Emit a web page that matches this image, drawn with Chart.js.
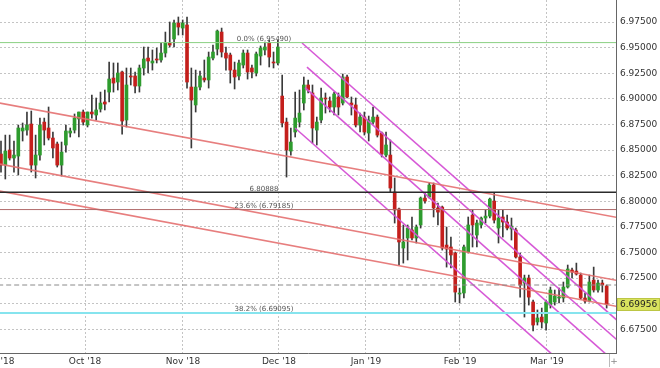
<!DOCTYPE html>
<html>
<head>
<meta charset="utf-8">
<script src="https://cdn.jsdelivr.net/npm/chart.js@4.4.1/dist/chart.umd.min.js"></script>
<style>
  html, body { margin: 0; padding: 0; background: #fff; }
  #wrap { width: 660px; height: 368px; }
</style>
</head>
<body>
<div id="wrap"><canvas id="chart" width="660" height="368"></canvas></div>
<script>
// daily candles, Sep '18 - Mar '19 (index = trading day)
const opens = [6.8461, 6.8353, 6.8500, 6.8422, 6.8441, 6.8686, 6.8695, 6.8754, 6.8353, 6.8451,
  6.8773, 6.8715, 6.8617, 6.8559, 6.8353, 6.8549, 6.8666, 6.8695, 6.8803, 6.8871,
  6.8744, 6.8871, 6.8842, 6.8900, 6.8969, 6.9066, 6.9203, 6.9164, 6.9262, 6.8793,
  6.9223, 6.9223, 6.9125, 6.9301, 6.9398, 6.9350, 6.9389, 6.9379, 6.9447, 6.9545,
  6.9584, 6.9740, 6.9691, 6.9721, 6.9115, 6.8940, 6.9115, 6.9203, 6.9184, 6.9398,
  6.9486, 6.9652, 6.9447, 6.9428, 6.9281, 6.9223, 6.9330, 6.9447, 6.9301, 6.9252,
  6.9418, 6.9477, 6.9545, 6.9359, 6.9350, 6.9027, 6.8773, 6.8490, 6.8676, 6.8773,
  6.8959, 6.9135, 6.9057, 6.8695, 6.8793, 6.9008, 6.8979, 6.8920, 6.9018, 6.8959,
  6.9213, 6.8959, 6.8940, 6.8744, 6.8822, 6.8666, 6.8773, 6.8822, 6.8666, 6.8451,
  6.8451, 6.8090, 6.7924, 6.7543, 6.7641, 6.7719, 6.7641, 6.7768, 6.8031, 6.8041,
  6.8158, 6.7934, 6.7943, 6.7572, 6.7553, 6.7494, 6.7094, 6.7104, 6.7504, 6.7865,
  6.7670, 6.7768, 6.7836, 6.7855, 6.8002, 6.7738, 6.7846, 6.7797, 6.7729, 6.7719,
  6.7455, 6.7201, 6.7250, 6.7016, 6.6821, 6.6869, 6.6811, 6.6986, 6.7016, 6.7055,
  6.7055, 6.7162, 6.7328, 6.7318, 6.7279, 6.7055, 6.7025, 6.7230, 6.7133, 6.7201,
  6.7172];
const highs = [6.8588, 6.8646, 6.8646, 6.8588, 6.8744, 6.8764, 6.8871, 6.8881, 6.8646, 6.8812,
  6.8812, 6.8920, 6.8676, 6.8578, 6.8578, 6.8744, 6.8715, 6.8852, 6.8871, 6.8891,
  6.8871, 6.9037, 6.9008, 6.9066, 6.9086, 6.9359, 6.9350, 6.9350, 6.9272, 6.9301,
  6.9301, 6.9262, 6.9330, 6.9506, 6.9506, 6.9477, 6.9496, 6.9545, 6.9652, 6.9750,
  6.9770, 6.9799, 6.9770, 6.9799, 6.9301, 6.9281, 6.9272, 6.9379, 6.9457, 6.9525,
  6.9672, 6.9691, 6.9506, 6.9447, 6.9359, 6.9379, 6.9477, 6.9477, 6.9330, 6.9457,
  6.9516, 6.9555, 6.9574, 6.9457, 6.9574, 6.9232, 6.8812, 6.8715, 6.9066, 6.9086,
  6.9213, 6.9184, 6.9135, 6.8822, 6.9105, 6.9057, 6.9018, 6.9066, 6.9057, 6.9242,
  6.9232, 6.9018, 6.9008, 6.8861, 6.8871, 6.8832, 6.8920, 6.8842, 6.8676, 6.8676,
  6.8598, 6.8227, 6.7934, 6.7768, 6.7768, 6.7846, 6.7768, 6.8041, 6.8080, 6.8178,
  6.8178, 6.7982, 6.7953, 6.7748, 6.7650, 6.7504, 6.7152, 6.7572, 6.7846, 6.7914,
  6.7816, 6.7846, 6.7914, 6.8031, 6.8080, 6.7914, 6.7914, 6.7865, 6.7836, 6.7738,
  6.7494, 6.7279, 6.7279, 6.7035, 6.6938, 6.6957, 6.7035, 6.7162, 6.7133, 6.7152,
  6.7211, 6.7377, 6.7348, 6.7396, 6.7299, 6.7104, 6.7279, 6.7357, 6.7230, 6.7230,
  6.7182];
const lows = [6.8285, 6.8217, 6.8402, 6.8285, 6.8256, 6.8588, 6.8646, 6.8285, 6.8227, 6.8402,
  6.8549, 6.8598, 6.8422, 6.8334, 6.8246, 6.8480, 6.8627, 6.8666, 6.8627, 6.8744,
  6.8725, 6.8812, 6.8793, 6.8871, 6.8891, 6.8969, 6.9066, 6.9086, 6.8656, 6.8725,
  6.9135, 6.9057, 6.9066, 6.9232, 6.9252, 6.9281, 6.9350, 6.9359, 6.9408, 6.9506,
  6.9506, 6.9623, 6.9623, 6.9105, 6.8520, 6.8871, 6.9086, 6.9164, 6.9105, 6.9379,
  6.9428, 6.9408, 6.9281, 6.9154, 6.9096, 6.9184, 6.9301, 6.9193, 6.9203, 6.9223,
  6.9330, 6.9428, 6.9311, 6.9301, 6.9330, 6.8725, 6.8236, 6.8451, 6.8627, 6.8725,
  6.8891, 6.9057, 6.8568, 6.8549, 6.8764, 6.8861, 6.8871, 6.8842, 6.8842, 6.8940,
  6.9008, 6.8842, 6.8725, 6.8676, 6.8646, 6.8588, 6.8754, 6.8627, 6.8432, 6.8432,
  6.8090, 6.7787, 6.7377, 6.7396, 6.7426, 6.7621, 6.7592, 6.7738, 6.7982, 6.8031,
  6.7846, 6.7768, 6.7523, 6.7357, 6.7348, 6.7016, 6.7006, 6.7055, 6.7494, 6.7553,
  6.7553, 6.7738, 6.7787, 6.7836, 6.7787, 6.7592, 6.7650, 6.7719, 6.7621, 6.7445,
  6.7064, 6.6869, 6.6986, 6.6733, 6.6791, 6.6762, 6.6742, 6.6957, 6.6986, 6.7006,
  6.7016, 6.7152, 6.7250, 6.7279, 6.7045, 6.7006, 6.7016, 6.7113, 6.7113, 6.7113,
  6.6957];
const closes = [6.8353, 6.8490, 6.8422, 6.8451, 6.8715, 6.8715, 6.8744, 6.8353, 6.8451, 6.8744,
  6.8695, 6.8617, 6.8520, 6.8353, 6.8480, 6.8686, 6.8686, 6.8812, 6.8871, 6.8773,
  6.8871, 6.8852, 6.8891, 6.8959, 6.8949, 6.9193, 6.9154, 6.9252, 6.8783, 6.9135,
  6.9213, 6.9125, 6.9301, 6.9389, 6.9369, 6.9369, 6.9379, 6.9447, 6.9545, 6.9525,
  6.9740, 6.9701, 6.9740, 6.9164, 6.8988, 6.9115, 6.9223, 6.9184, 6.9408, 6.9457,
  6.9662, 6.9457, 6.9398, 6.9281, 6.9213, 6.9350, 6.9447, 6.9262, 6.9262, 6.9438,
  6.9496, 6.9506, 6.9408, 6.9350, 6.9506, 6.8764, 6.8500, 6.8578, 6.8812, 6.8861,
  6.9135, 6.9086, 6.8715, 6.8773, 6.9008, 6.8998, 6.8920, 6.9047, 6.8920, 6.9213,
  6.9018, 6.8940, 6.8744, 6.8822, 6.8676, 6.8793, 6.8822, 6.8646, 6.8461, 6.8549,
  6.8129, 6.7914, 6.7602, 6.7602, 6.7738, 6.7641, 6.7748, 6.8031, 6.8002, 6.8158,
  6.7934, 6.7894, 6.7543, 6.7533, 6.7475, 6.7113, 6.7104, 6.7553, 6.7768, 6.7768,
  6.7787, 6.7836, 6.7855, 6.8021, 6.7816, 6.7836, 6.7797, 6.7738, 6.7758, 6.7455,
  6.7182, 6.7250, 6.7064, 6.6791, 6.6860, 6.6821, 6.7016, 6.7133, 6.7074, 6.7064,
  6.7162, 6.7338, 6.7309, 6.7289, 6.7055, 6.7025, 6.7211, 6.7133, 6.7201, 6.7182,
  6.69956];

// x axis month marks (position in trading-day units)
const monthLabels = ["Sep '18", "Oct '18", "Nov '18", "Dec '18", "Jan '19", "Feb '19", "Mar '19"];
const monthPos = [-0.81, 19.42, 42.07, 64.26, 84.37, 106.1, 126.2];
const yTicks = [6.675, 6.7, 6.725, 6.75, 6.775, 6.8, 6.825, 6.85, 6.875, 6.9, 6.925, 6.95, 6.975];

// drawn lines: start / end points
const lineX = [-2.5, 147.7];
const trendUpper = [6.8976, 6.7800];
const trendMiddle = [6.8381, 6.7184];
const trendLower = [6.8117, 6.6931];
const channelStartX = [69.58, 70.73, 70.27, 67.96];
const channelStartY = [6.9545, 6.9310, 6.9110, 6.8715];
const channelEndY = [6.6641, 6.6449, 6.6213, 6.5750];

const levels = [6.95490, 6.80888, 6.79185, 6.69095];
const levelLabels = ['0.0% (6.95490)', '6.80888', '23.6% (6.79185)', '38.2% (6.69095)'];
const levelColors = ['#8bd083', '#2b2b2b', '#b06a6a', '#86e4ee'];
const levelWidths = [1, 1.5, 1, 2];
const levelLabelX = 60.8;
const prevClose = 6.7182;

const green = '#2e9c2e';
const red = '#c41f1c';

function segment(x0, y0, x1, y1, color, width, dash) {
  return {
    type: 'line',
    data: [{x: x0, y: y0}, {x: x1, y: y1}],
    borderColor: color,
    borderWidth: width,
    borderDash: dash || [],
    pointRadius: 0,
    fill: false,
    order: 0
  };
}

const datasets = [];
datasets.push({
  type: 'bar',
  data: highs.map((h, i) => ({x: i, y: [lows[i], h]})),
  backgroundColor: '#3a3a3a',
  barThickness: 1,
  grouped: false,
  order: 2
});
datasets.push({
  type: 'bar',
  data: opens.map((o, i) => ({x: i, y: [o, closes[i]]})),
  backgroundColor: opens.map((o, i) => closes[i] >= o ? green : red),
  barThickness: 3,
  minBarLength: 1,
  grouped: false,
  order: 1
});

levels.forEach((v, i) => {
  datasets.push(segment(lineX[0], v, lineX[1], v, levelColors[i], levelWidths[i]));
});
datasets.push(segment(lineX[0], prevClose, lineX[1], prevClose, '#8a8a8a', 1, [5, 3]));

[trendUpper, trendMiddle, trendLower].forEach(t => {
  datasets.push(segment(lineX[0], t[0], lineX[1], t[1], 'rgba(228,112,112,0.9)', 1.6));
});
channelStartX.forEach((x0, i) => {
  datasets.push(segment(x0, channelStartY[i], lineX[1], channelEndY[i], 'rgba(212,80,212,0.95)', 1.6));
});

const overlay = {
  id: 'overlay',
  afterDatasetsDraw(chart) {
    const {ctx, scales: {x, y}} = chart;
    ctx.save();
    ctx.font = '7px "DejaVu Sans"';
    ctx.fillStyle = '#555';
    ctx.textAlign = 'center';
    ctx.textBaseline = 'alphabetic';
    levels.forEach((v, i) => {
      ctx.fillText(levelLabels[i], x.getPixelForValue(levelLabelX), y.getPixelForValue(v) - 1.5);
    });
    ctx.restore();
  },
  afterDraw(chart) {
    const {ctx, scales: {y}, chartArea} = chart;
    const last = closes[closes.length - 1];
    const py = Math.round(y.getPixelForValue(last));
    ctx.save();
    ctx.fillStyle = '#d9e25e';
    ctx.strokeStyle = '#bcc644';
    ctx.fillRect(chartArea.right + 1, py - 6, 43, 13);
    ctx.strokeRect(chartArea.right + 1.5, py - 5.5, 42, 12);
    ctx.fillStyle = '#222';
    ctx.font = '9px "DejaVu Sans"';
    ctx.textAlign = 'left';
    ctx.textBaseline = 'middle';
    ctx.fillText(last.toFixed(5), chartArea.right + 4, py + 0.5);
    // corner marker
    ctx.strokeStyle = '#bbb';
    ctx.beginPath();
    ctx.moveTo(609.5, chartArea.bottom + 1);
    ctx.lineTo(609.5, 367);
    ctx.stroke();
    ctx.fillStyle = '#888';
    ctx.textAlign = 'center';
    ctx.fillText('+', 614, 362);
    ctx.restore();
  }
};

new Chart(document.getElementById('chart'), {
  type: 'bar',
  data: {datasets: datasets},
  options: {
    responsive: false,
    animation: false,
    layout: {padding: 0},
    plugins: {legend: {display: false}, tooltip: {enabled: false}},
    scales: {
      x: {
        type: 'linear',
        min: -0.23,
        max: 142.16,
        offset: false,
        afterBuildTicks: s => { s.ticks = monthPos.map(v => ({value: v})); },
        afterFit: s => { s.paddingLeft = 0; s.paddingRight = 0; s.height = 15; },
        grid: {offset: false, color: '#c4c4c4', drawTicks: false},
        border: {display: true, color: '#666', width: 1, dash: [2, 2]},
        ticks: {
          autoSkip: false,
          maxRotation: 0,
          padding: 3,
          color: '#333',
          font: {family: 'DejaVu Sans', size: 9},
          callback: (v, i) => monthLabels[i]
        }
      },
      y: {
        position: 'right',
        min: 6.6518,
        max: 6.9965,
        afterBuildTicks: s => { s.ticks = yTicks.map(v => ({value: v})); },
        afterFit: s => { s.paddingTop = 0; s.paddingBottom = 0; s.width = 44; },
        grid: {color: '#c4c4c4', drawTicks: false},
        border: {display: true, color: '#666', width: 1, dash: [2, 2]},
        ticks: {
          padding: 4,
          color: '#333',
          font: {family: 'DejaVu Sans', size: 9},
          callback: v => Math.abs(v - 6.7) < 1e-9 ? '' : v.toFixed(5)
        }
      }
    }
  },
  plugins: [overlay]
});
</script>
</body>
</html>
